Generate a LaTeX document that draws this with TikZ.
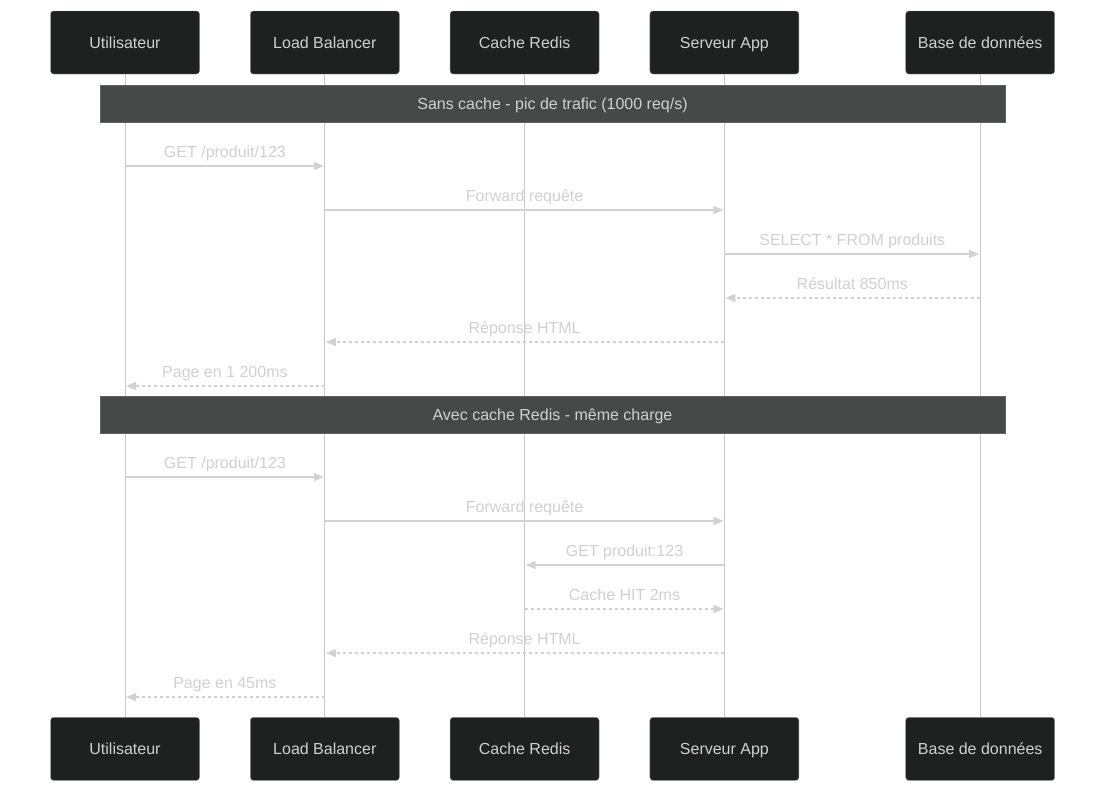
\documentclass[tikz,border=0pt]{standalone}
\usepackage{fontspec}
\setmainfont{Liberation Sans}
\usepackage{xcolor}
\usetikzlibrary{arrows.meta,positioning}

\definecolor{actorbg}{HTML}{1F2020}
\definecolor{actorln}{HTML}{8A8A8A}
\definecolor{notebg}{HTML}{474948}
\definecolor{lifeln}{HTML}{C8C8C8}
\definecolor{msgln}{HTML}{D2D2D2}
\definecolor{softtxt}{HTML}{D0D0D0}

\begin{document}
\begin{tikzpicture}[
  x=1pt, y=-1pt,
  actor/.style={draw=actorln, fill=actorbg, rounded corners=3pt,
    minimum width=149pt, minimum height=63pt, text=softtxt,
    text height=11.5pt, text depth=0pt,
    font=\fontsize{16}{19}\selectfont},
  note/.style={draw=actorln!70!black, fill=notebg, minimum width=905pt,
    minimum height=37pt, text=softtxt, text height=11.5pt, text depth=0pt,
    font=\fontsize{16}{19}\selectfont},
  life/.style={draw=lifeln, line width=1pt},
  msg/.style={draw=msgln, line width=1.4pt, shorten >=1pt,
    -{Triangle[length=10pt,width=8pt]}},
  reply/.style={msg, dash pattern=on 3pt off 3pt},
  lbl/.style={midway, yshift=14pt, text=softtxt, inner sep=0pt,
    text height=11.5pt, text depth=0pt, font=\fontsize{16}{19}\selectfont},
]
  \useasboundingbox (0,0) rectangle (1106,793);

  % participants, top row
  \node[actor] (ut) at (125,42.5) {Utilisateur};
  \node[actor, right=50.4pt of ut] (lb) {Load Balancer};
  \node[actor, right=50.4pt of lb] (rd) {Cache Redis};
  \node[actor, right=50.4pt of rd] (app) {Serveur App};
  \node[actor, right=106.4pt of app] (db) {Base de données};

  % participants, bottom row
  \node[actor, below=643pt of ut] (ut2) {Utilisateur};
  \node[actor, below=643pt of lb] (lb2) {Load Balancer};
  \node[actor, below=643pt of rd] (rd2) {Cache Redis};
  \node[actor, below=643pt of app] (app2) {Serveur App};
  \node[actor, below=643pt of db] (db2) {Base de données};

  % lifelines
  \foreach \p in {ut,lb,rd,app,db}
    \draw[life] (\p.south) -- (\p2.north);

  % phase 1
  \node[note] (sans) at (552.5,104) {Sans cache - pic de trafic (1000 req/s)};
  \draw[msg] (ut |- 0,166) -- node[lbl] {GET /produit/123} (lb |- 0,166);
  \draw[msg] (lb |- 0,210) -- node[lbl] {Forward requête} (app |- 0,210);
  \draw[msg] (app |- 0,254) -- node[lbl] {SELECT * FROM produits} (db |- 0,254);
  \draw[reply] (db |- 0,298) -- node[lbl] {Résultat 850ms} (app |- 0,298);
  \draw[reply] (app |- 0,342) -- node[lbl] {Réponse HTML} (lb |- 0,342);
  \draw[reply] (lb |- 0,386) -- node[lbl] {Page en 1 200ms} (ut |- 0,386);

  % phase 2
  \node[note] (avec) at (552.5,415) {Avec cache Redis - même charge};
  \draw[msg] (ut |- 0,477) -- node[lbl] {GET /produit/123} (lb |- 0,477);
  \draw[msg] (lb |- 0,521) -- node[lbl] {Forward requête} (app |- 0,521);
  \draw[msg] (app |- 0,565) -- node[lbl] {GET produit:123} (rd |- 0,565);
  \draw[reply] (rd |- 0,609) -- node[lbl] {Cache HIT 2ms} (app |- 0,609);
  \draw[reply] (app |- 0,653) -- node[lbl] {Réponse HTML} (lb |- 0,653);
  \draw[reply] (lb |- 0,697) -- node[lbl] {Page en 45ms} (ut |- 0,697);
\end{tikzpicture}
\end{document}
